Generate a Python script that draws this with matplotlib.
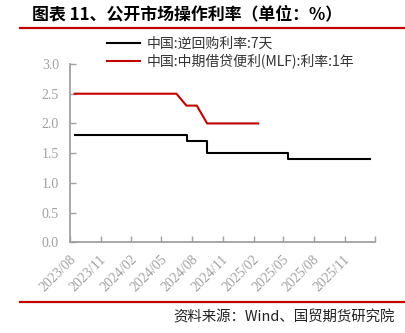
import matplotlib
matplotlib.use("Agg")
import matplotlib.pyplot as plt
import matplotlib.transforms as mtransforms
import numpy as np
import pandas as pd

plt.rcParams['font.family'] = ['Noto Sans CJK SC', 'DejaVu Sans']

# 逆回购利率:7天（按调整日期的阶梯数据）
repo_dates = pd.to_datetime(['2023-08-15', '2024-07-17', '2024-09-16', '2025-05-16', '2026-01-15'])
repo_rate = [1.8, 1.7, 1.5, 1.4, 1.4]

# MLF利率:1年（月度，每月15日）
mlf_dates = pd.date_range('2023-08-01', periods=19, freq='MS') + pd.Timedelta(days=14)
mlf_rate = [2.5] * 11 + [2.3, 2.3] + [2.0] * 6

tick_dates = pd.date_range('2023-08-01', '2026-02-01', freq='3MS')
tick_labels = [d.strftime('%Y/%m') for d in tick_dates[:-1]] + ['']

label_repo = '中国:逆回购利率:7天'
label_mlf = '中国:中期借贷便利(MLF):利率:1年'
title = '图表 11、公开市场操作利率（单位：%）'
source = '资料来源：Wind、国贸期货研究院'

red = '#C00000'
gray = '#A0A0A0'

fig = plt.figure(figsize=(4.05, 3.33), dpi=100)
ax = fig.add_axes([70 / 405, 1 - 242.3 / 333, 305.3 / 405, 178.3 / 333])

ax.step(repo_dates, repo_rate, where='post', color='black', lw=1.5, label=label_repo)
ax.plot(mlf_dates, mlf_rate, color=red, lw=1.5, label=label_mlf)

ax.set_ylim(0, 3.0)
ax.set_yticks(np.arange(0, 3.01, 0.5))
ax.set_yticklabels([f'{v:.1f}' for v in np.arange(0, 3.01, 0.5)])
ax.set_xlim(tick_dates[0], tick_dates[-1])
ax.set_xticks(tick_dates)
ax.set_xticklabels(tick_labels)

for s in ['top', 'right']:
    ax.spines[s].set_visible(False)
for s in ['left', 'bottom']:
    ax.spines[s].set_color(gray)
    ax.spines[s].set_linewidth(1.3)

ax.tick_params(axis='both', direction='in', length=4, width=1, color=gray,
               labelcolor=gray, labelsize=10)
ax.tick_params(axis='y', pad=8)
ax.tick_params(axis='x', pad=11)
for t in ax.get_yticklabels():
    t.set_fontfamily('Liberation Serif')
offset = mtransforms.ScaledTranslation(3.5 / 100, 0, fig.dpi_scale_trans)
for t in ax.get_xticklabels():
    t.set_fontfamily('Liberation Serif')
    t.set_rotation(45)
    t.set_rotation_mode('anchor')
    t.set_ha('right')
    t.set_va('center')
    t.set_transform(t.get_transform() + offset)

fig.legend(loc='upper left', bbox_to_anchor=(107 / 405, 1 - 37 / 333), frameon=False,
           fontsize=10, handlelength=2.4, handletextpad=0.45, labelspacing=0.2,
           borderpad=0, borderaxespad=0, labelcolor='#333333')

fig.text(32 / 405, 1 - 14 / 333, title, fontsize=12.2, fontweight='bold',
         ha='left', va='center', color='black')
fig.add_artist(plt.Line2D([20 / 405, 1], [1 - 28 / 333] * 2, color=red, lw=1.6))
fig.add_artist(plt.Line2D([20 / 405, 1], [1 - 301.5 / 333] * 2, color=red, lw=1.6))
fig.text(395 / 405, 1 - 317 / 333, source, fontsize=10.4, ha='right', va='center',
         color='#222222')

fig.savefig('out.png', dpi=100)
